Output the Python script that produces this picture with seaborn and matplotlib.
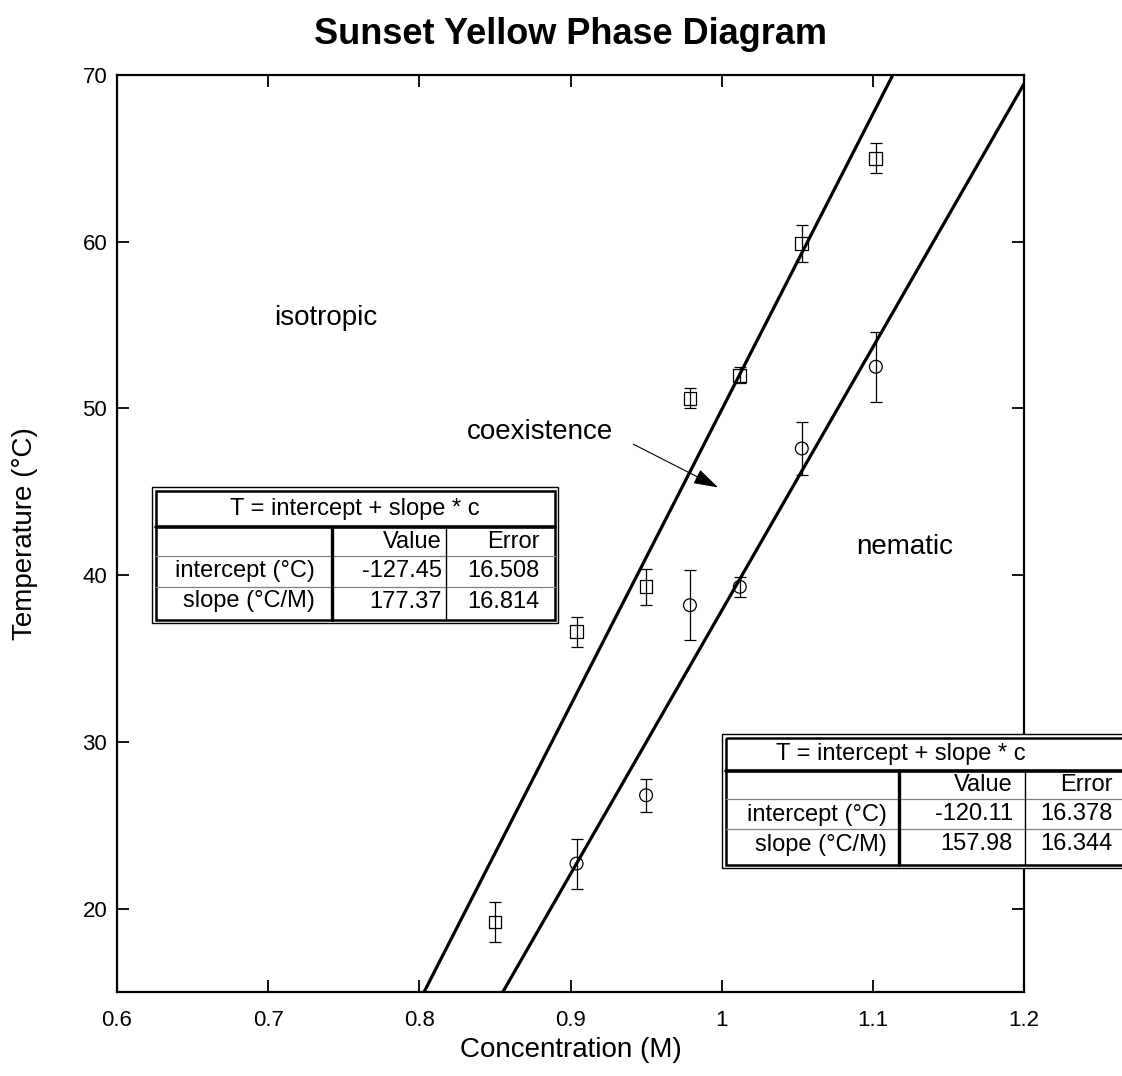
import matplotlib.pyplot as plt
import matplotlib.transforms as mtransforms
from matplotlib.lines import Line2D
from matplotlib.patches import Rectangle
from matplotlib.ticker import FormatStrFormatter
import numpy as np
import seaborn as sns

sns.set_style('ticks')
plt.rcParams['font.family'] = ['Liberation Sans', 'DejaVu Sans']
plt.rcParams['text.color'] = 'black'
plt.rcParams['axes.labelcolor'] = 'black'

# isotropic / coexistence boundary (squares)
c_iso = [0.850, 0.904, 0.950, 0.979, 1.012, 1.053, 1.102]
T_iso = [19.2, 36.6, 39.3, 50.6, 52.0, 59.9, 65.0]
err_iso = [1.2, 0.9, 1.1, 0.6, 0.5, 1.1, 0.9]

# coexistence / nematic boundary (circles)
c_nem = [0.904, 0.950, 0.979, 1.012, 1.053, 1.102]
T_nem = [22.7, 26.8, 38.2, 39.3, 47.6, 52.5]
err_nem = [1.5, 1.0, 2.1, 0.6, 1.6, 2.1]

# linear fits, T = intercept + slope * c
fit_title = 'T = intercept + slope * c'
fit_cols = ['Value', 'Error']
fit_rows = ['intercept (°C)', 'slope (°C/M)']
fit_iso = ['-127.45', '177.37']
fit_iso_err = ['16.508', '16.814']
fit_nem = ['-120.11', '157.98']
fit_nem_err = ['16.378', '16.344']

x_ticks = [0.6, 0.7, 0.8, 0.9, 1.0, 1.1, 1.2]
y_ticks = [20, 30, 40, 50, 60, 70]

W, H = 1122, 1076
fig = plt.figure(figsize=(W / 100, H / 100), dpi=100)
ax = fig.add_axes([117 / W, 84 / H, 907 / W, 917 / H])

c_line = np.array([0.6, 1.2])
for fit in (fit_iso, fit_nem):
    sns.lineplot(x=c_line, y=float(fit[0]) + float(fit[1]) * c_line,
                 color='black', lw=2.3, ax=ax)

ax.errorbar(c_iso, T_iso, yerr=err_iso, fmt='none', ecolor='black',
            elinewidth=0.9, capsize=4.3, capthick=0.9)
ax.errorbar(c_nem, T_nem, yerr=err_nem, fmt='none', ecolor='black',
            elinewidth=0.9, capsize=4.3, capthick=0.9)
sns.scatterplot(x=c_iso, y=T_iso, marker='s', s=85, facecolors='none',
                edgecolor='black', linewidth=0.9, ax=ax, zorder=3)
sns.scatterplot(x=c_nem, y=T_nem, marker='o', s=85, facecolors='none',
                edgecolor='black', linewidth=0.9, ax=ax, zorder=3)

ax.set_xlim(0.6, 1.2)
ax.set_ylim(15, 70)
ax.set_xticks(x_ticks)
ax.set_yticks(y_ticks)
ax.xaxis.set_major_formatter(FormatStrFormatter('%g'))
ax.tick_params(direction='in', length=8.6, width=1.3, top=True, right=True,
               labelsize=16, colors='black')
ax.tick_params(axis='x', pad=13)
ax.tick_params(axis='y', pad=7)
for sp in ax.spines.values():
    sp.set_linewidth(1.6)
    sp.set_color('black')

ax.set_xlabel('Concentration (M)', fontsize=20)
ax.set_ylabel('Temperature (°C)', fontsize=20)
ax.xaxis.set_label_coords(0.5, -0.049)
ax.yaxis.set_label_coords(-0.087, 0.5)

ax.text(0.738, 55.4, 'isotropic', fontsize=20, ha='center', va='center')
ax.text(0.880, 48.6, 'coexistence', fontsize=20, ha='center', va='center')
ax.text(1.121, 41.7, 'nematic', fontsize=20, ha='center', va='center')
ax.annotate('', xy=(0.9977, 45.26), xytext=(0.9415, 47.86),
            arrowprops=dict(arrowstyle='-|>,head_length=0.55,head_width=0.17',
                            lw=0.8, color='black', mutation_scale=28,
                            shrinkA=0, shrinkB=0))

fig.text(570 / W, 1 - 34 / H, 'Sunset Yellow Phase Diagram', fontsize=26,
         fontweight='bold', ha='center', va='center')

# pixel coordinates, origin at the top left
px = mtransforms.Affine2D().scale(1 / W, -1 / H).translate(0, 1) + fig.transFigure


def draw_table(box, head_y, row_lines, col_thick, col_thin, title_x,
               text_x, text_y, values, errors):
    x0, y0, x1, y1 = box
    fig.add_artist(Rectangle((x0, y0), x1 - x0, y1 - y0, fc='white', ec='black',
                             lw=1.0, transform=px, zorder=5))
    xi0, yi0, xi1, yi1 = x0 + 3.7, y0 + 3.7, x1 - 3.7, y1 - 3.7
    fig.add_artist(Rectangle((xi0, yi0), xi1 - xi0, yi1 - yi0, fc='none',
                             ec='black', lw=1.8, transform=px, zorder=6))
    fig.add_artist(Line2D([xi0, xi1], [head_y, head_y], color='black', lw=2.6,
                          transform=px, zorder=6))
    for ry in row_lines:
        fig.add_artist(Line2D([xi0, xi1], [ry, ry], color='#808080', lw=0.9,
                              transform=px, zorder=6))
    fig.add_artist(Line2D([col_thick, col_thick], [head_y, yi1], color='black',
                          lw=2.4, transform=px, zorder=6))
    fig.add_artist(Line2D([col_thin, col_thin], [head_y, yi1], color='black',
                          lw=1.0, transform=px, zorder=6))
    kw = dict(fontsize=17, va='center', transform=px, zorder=7)
    fig.text(title_x, (yi0 + head_y) / 2, fit_title, ha='center', **kw)
    fig.text(text_x[1], text_y[0], fit_cols[0], ha='right', **kw)
    fig.text(text_x[2], text_y[0], fit_cols[1], ha='right', **kw)
    for i in range(2):
        fig.text(text_x[0], text_y[i + 1], fit_rows[i], ha='right', **kw)
        fig.text(text_x[1], text_y[i + 1], values[i], ha='right', **kw)
        fig.text(text_x[2], text_y[i + 1], errors[i], ha='right', **kw)


draw_table((152.3, 487.3, 558.3, 623.3), 526.7, [556, 586.7], 331.7, 445.7,
           355, [315, 441.7, 540], [541.7, 571, 601.5], fit_iso, fit_iso_err)
draw_table((722.3, 734, 1150, 868.3), 770.7, [799, 829], 899.3, 1025,
           901, [887, 1012.7, 1113], [785, 814.5, 844.5], fit_nem, fit_nem_err)

fig.savefig('out.png', dpi=100)
